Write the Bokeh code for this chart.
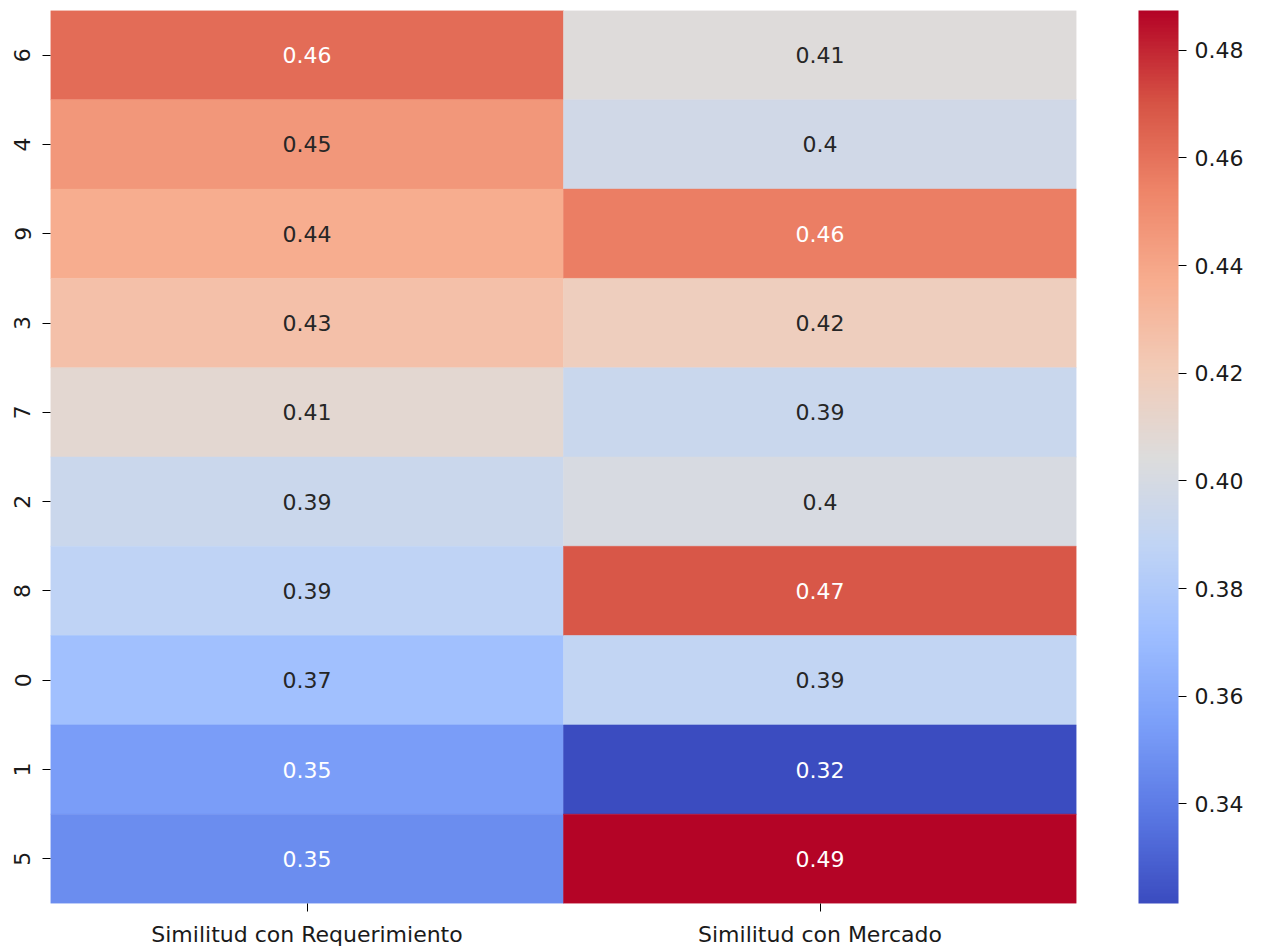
import numpy as np
from bokeh.plotting import figure
from bokeh.models import ColumnDataSource, LinearColorMapper, ColorBar, FixedTicker, PrintfTickFormatter
from bokeh.embed import file_html
from bokeh.resources import INLINE
from bokeh.core.properties import value

rows = ["6", "4", "9", "3", "7", "2", "8", "0", "1", "5"]
cols = ["Similitud con Requerimiento", "Similitud con Mercado"]
req = [0.462, 0.446, 0.437, 0.427, 0.409, 0.394, 0.387, 0.373, 0.354, 0.347]
mer = [0.4052, 0.397, 0.456, 0.418, 0.393, 0.401, 0.469, 0.389, 0.3215, 0.4874]
cbar_ticks = [0.34, 0.36, 0.38, 0.40, 0.42, 0.44, 0.46, 0.48]

# coolwarm palette (anchors at 0, .1, ..., 1)
anchors = ["#3b4cc0", "#5a78e4", "#7b9ff9", "#9ebeff", "#c0d4f5", "#dddcdc",
           "#f2cbb7", "#f7ac8e", "#ee8468", "#d65244", "#b40426"]
argb = np.array([[int(h[i:i + 2], 16) for i in (1, 3, 5)] for h in anchors], dtype=float)
pos = np.linspace(0, 1, len(anchors))
tt = np.linspace(0, 1, 256)
pal_rgb = np.stack([np.interp(tt, pos, argb[:, k]) for k in range(3)], axis=1)
palette = ["#%02x%02x%02x" % tuple(int(round(c)) for c in rgb) for rgb in pal_rgb]

vals = req + mer
vmin, vmax = min(vals), max(vals)
mapper = LinearColorMapper(palette=palette, low=vmin, high=vmax)


def lum(rgb):
    c = np.array(rgb) / 255.0
    c = np.where(c <= 0.03928, c / 12.92, ((c + 0.055) / 1.055) ** 2.4)
    return 0.2126 * c[0] + 0.7152 * c[1] + 0.0722 * c[2]


xs, ys, labels, tcs = [], [], [], []
for ci, series in enumerate([req, mer]):
    for r, v in zip(rows, series):
        xs.append(cols[ci])
        ys.append(r)
        labels.append(format(v, ".2g"))
        idx = int(min(255, max(0, (v - vmin) / (vmax - vmin) * 256)))
        tcs.append("#262626" if lum(pal_rgb[idx]) > 0.408 else "#ffffff")

src = ColumnDataSource(dict(x=xs, y=ys, v=[*req, *mer], label=labels, tc=tcs))

p = figure(x_range=cols, y_range=list(reversed(rows)), frame_width=1026, frame_height=893,
           output_backend="svg", toolbar_location=None,
           min_border_left=50, min_border_top=10, min_border_right=5, min_border_bottom=5)
p.outline_line_color = None
p.grid.grid_line_color = None
p.background_fill_color = "white"

p.rect(x="x", y="y", width=1, height=1, source=src,
       fill_color={"field": "v", "transform": mapper},
       line_color={"field": "v", "transform": mapper}, line_width=0.5)
p.text(x="x", y="y", text="label", source=src, text_color="tc",
       text_align="center", text_baseline="middle",
       text_font=value("DejaVu Sans"), text_font_size="22px")

for ax in (p.xaxis, p.yaxis):
    ax.axis_line_color = None
    ax.major_tick_in = 0
    ax.major_tick_out = 8
    ax.major_tick_line_color = "black"
    ax.minor_tick_line_color = None
    ax.major_label_text_font = "DejaVu Sans"
    ax.major_label_text_font_size = "22px"
    ax.major_label_text_color = "#1a1a1a"
p.yaxis.major_label_orientation = "vertical"
p.yaxis.major_label_standoff = 12
p.xaxis.major_label_standoff = 10

cb = ColorBar(color_mapper=mapper, ticker=FixedTicker(ticks=cbar_ticks),
              formatter=PrintfTickFormatter(format="%.2f"),
              width=40, height=893, padding=0, margin=0, location=(62, 0),
              major_tick_in=0, major_tick_out=8, major_tick_line_color="black",
              minor_tick_line_color=None, bar_line_color=None,
              label_standoff=8, major_label_text_font="DejaVu Sans",
              major_label_text_font_size="22px", major_label_text_color="#1a1a1a",
              background_fill_color=None)
p.add_layout(cb, "right")

open("out.html", "w").write(file_html(p, INLINE))
